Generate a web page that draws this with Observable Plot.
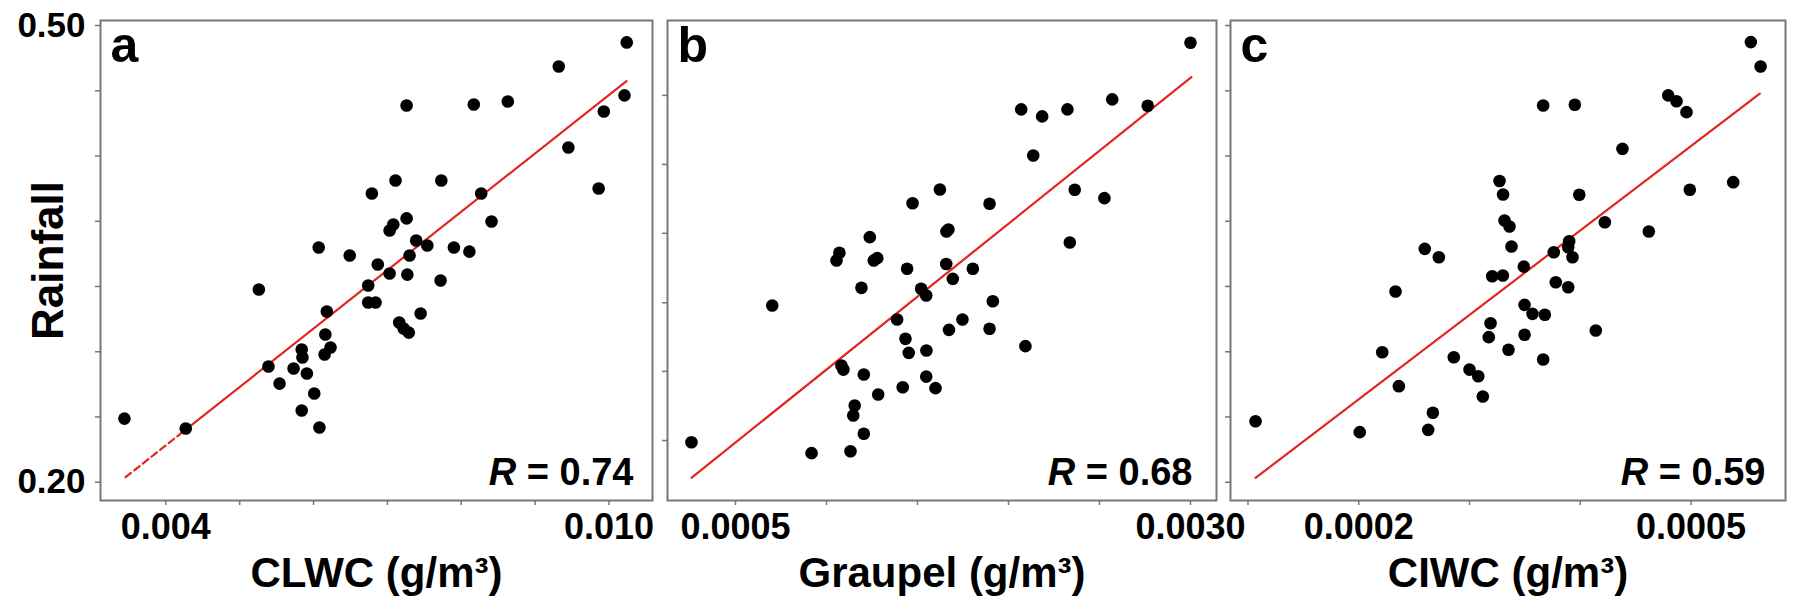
<!DOCTYPE html>
<html><head><meta charset="utf-8">
<script src="https://cdn.jsdelivr.net/npm/d3@7"></script>
<script src="https://cdn.jsdelivr.net/npm/@observablehq/plot@0.6"></script>
<style>
html,body{margin:0;padding:0;background:#fff;}
#chart{position:relative;width:1796px;height:607px;overflow:hidden;font-family:"Liberation Sans",Arial,sans-serif;}
#chart svg{position:absolute;top:0;}
</style></head><body><div id="chart"></div>
<script>
// ---- data ----
const clwc = [0.00344,0.00427,0.00526,0.00539,0.00554,0.00573,0.00584,0.00585,0.00591,0.00584,0.00601,0.00608,0.00607,0.00618,0.00616,0.00615,0.00623,0.00649,0.00674,0.00674,0.00684,0.00687,0.00679,0.00703,0.00703,0.00711,0.00716,0.00708,0.00722,0.00729,0.00726,0.00726,0.00730,0.00727,0.00739,0.00754,0.00745,0.00773,0.00772,0.00790,0.00811,0.00817,0.00827,0.00841,0.00863,0.00932,0.00945,0.00986,0.00993,0.01021,0.01024];
const rainA = [0.2418,0.2353,0.3266,0.2760,0.2648,0.2747,0.2872,0.2819,0.2714,0.2471,0.2583,0.2360,0.3542,0.3121,0.2970,0.2839,0.2885,0.3489,0.3292,0.3181,0.3181,0.3430,0.3897,0.3371,0.3654,0.3982,0.3049,0.3693,0.3010,0.2983,0.4475,0.3733,0.3489,0.3364,0.3588,0.3555,0.3108,0.3982,0.3325,0.3542,0.3515,0.4481,0.3897,0.3713,0.4501,0.4731,0.4199,0.3929,0.4435,0.4541,0.4889];
const graupel = [0.000258,0.000702,0.000918,0.001071,0.001055,0.001082,0.001093,0.001132,0.001155,0.001147,0.001205,0.001192,0.001205,0.001238,0.001260,0.001279,0.001284,0.001388,0.001419,0.001434,0.001443,0.001452,0.001473,0.001520,0.001548,0.001549,0.001548,0.001599,0.001623,0.001659,0.001670,0.001658,0.001694,0.001673,0.001747,0.001804,0.001896,0.001914,0.001896,0.002070,0.002093,0.002136,0.002185,0.002324,0.002364,0.002337,0.002527,0.002570,0.002765,0.003000];
const rainB = [0.2263,0.3161,0.2191,0.3507,0.3457,0.2767,0.2740,0.2204,0.2504,0.2438,0.2318,0.3277,0.2708,0.3610,0.3457,0.3472,0.2576,0.3069,0.2624,0.2942,0.3402,0.2850,0.3833,0.3271,0.3227,0.2865,0.2694,0.2618,0.3923,0.3647,0.3660,0.3434,0.3336,0.3001,0.3069,0.3402,0.3829,0.3189,0.3008,0.4449,0.2894,0.4146,0.4403,0.4449,0.3921,0.3575,0.3866,0.4515,0.4473,0.4887];
const ciwc = [0.0001068,0.0002009,0.0002212,0.0002332,0.0002362,0.0002596,0.0002723,0.0002669,0.0002627,0.0002858,0.0003000,0.0003079,0.0003120,0.0003190,0.0003174,0.0003205,0.0003301,0.0003271,0.0003303,0.0003316,0.0003361,0.0003379,0.0003352,0.0003490,0.0003497,0.0003497,0.0003569,0.0003680,0.0003665,0.0003665,0.0003761,0.0003779,0.0003891,0.0003900,0.0003891,0.0003930,0.0003951,0.0003991,0.0004140,0.0004222,0.0004381,0.0004619,0.0004794,0.0004869,0.0004959,0.0004989,0.0005381,0.0005540,0.0005628];
const rainC = [0.2401,0.2329,0.2854,0.3253,0.2631,0.3533,0.3478,0.2456,0.2344,0.2821,0.2740,0.2696,0.2563,0.3044,0.2953,0.3353,0.3358,0.3979,0.3890,0.3719,0.3680,0.3548,0.2870,0.3416,0.3165,0.2969,0.3106,0.3100,0.2806,0.4475,0.3511,0.3314,0.3281,0.3583,0.3544,0.3478,0.4480,0.3888,0.2997,0.3708,0.4190,0.3647,0.4541,0.4503,0.4431,0.3921,0.3971,0.4891,0.4731];

// fitted regression lines (end points)
const fitAx = [0.003455, 0.010237], fitAy = [0.2033, 0.4635];
const fitBx = [0.000258, 0.003005], fitBy = [0.2029, 0.4661];
const fitCx = [0.0001068, 0.0005621], fitCy = [0.2029, 0.4552];
const dashEndA = 0.00427;

// texts & ticks
const panelLetters = ["a", "b", "c"];
const rValues = ["0.74", "0.68", "0.59"];
const xTitles = ["CLWC (g/m³)", "Graupel (g/m³)", "CIWC (g/m³)"];
const yTitle = "Rainfall";
const yTicks = [0.2, 0.2429, 0.2857, 0.3286, 0.3714, 0.4143, 0.4571, 0.5];
const yTickLabels = ["0.20", "", "", "", "", "", "", "0.50"];
const yTicksB = [0.2274, 0.2728, 0.3179, 0.3635, 0.4088, 0.4541];
const xTicksA = [0.004, 0.005, 0.006, 0.007, 0.008, 0.009, 0.010];
const xTickLabelsA = ["0.004", "", "", "", "", "", "0.010"];
const xTicksB = [0.0005, 0.0010, 0.0015, 0.0020, 0.0025, 0.0030];
const xTickLabelsB = ["0.0005", "", "", "", "", "0.0030"];
const xTicksC = [0.0001, 0.0002, 0.0003, 0.0004, 0.0005];
const xTickLabelsC = ["", "0.0002", "", "", "0.0005"];

// ---- layout ----
const FONT = "Liberation Sans, Arial, Helvetica, sans-serif";
const GRAY = "#777777";
const RED = "#e3241f";
const H = 607, MT = 20, MB = 107;
const yDomain = [0.1880, 0.5033];

function fitLine(fx, fy, a, b) {
  const f = t => fy[0] + (fy[1] - fy[0]) * (t - fx[0]) / (fx[1] - fx[0]);
  return [{x: a, y: f(a)}, {x: b, y: f(b)}];
}

function panel(o) {
  const idx = d3.range(o.x.length);
  const xl = new Map(o.xTicks.map((t, i) => [t, o.xLabels[i]]));
  const yl = new Map(o.yTicks.map((t, i) => [t, o.yLabels ? o.yLabels[i] : ""]));
  const solidStart = o.dashEnd ?? o.fitX[0];
  const marks = [
    Plot.axisX(o.xTicks, {tickSize: 5, tickPadding: 8, tickFormat: d => xl.get(d), fontSize: 36, fontWeight: "bold", fontFamily: FONT, stroke: GRAY, strokeWidth: 1.5, fill: "black", label: null}),
    Plot.axisY(o.yTicks, {tickSize: 5, tickPadding: 10, tickFormat: d => yl.get(d), fontSize: 35, fontWeight: "bold", fontFamily: FONT, stroke: GRAY, strokeWidth: 1.5, fill: "black", label: null}),
    Plot.frame({stroke: GRAY, strokeWidth: 2}),
  ];
  if (o.dashEnd != null) {
    marks.push(Plot.line(fitLine(o.fitX, o.fitY, o.fitX[0], o.dashEnd), {x: "x", y: "y", stroke: RED, strokeWidth: 2.2, strokeDasharray: "7,4"}));
  }
  marks.push(
    Plot.line(fitLine(o.fitX, o.fitY, solidStart, o.fitX[1]), {x: "x", y: "y", stroke: RED, strokeWidth: 2.2}),
    Plot.dot(idx, {x: i => o.x[i], y: i => o.y[i], r: 6.3, fill: "black", stroke: "none"}),
    Plot.text([o.letter], {text: d => d, frameAnchor: "top-left", lineAnchor: "top", dx: 10, dy: 6, fontSize: 50, fontWeight: "bold", fontFamily: FONT, fill: "black"}),
    Plot.text(["R = " + o.r], {text: d => d, frameAnchor: "bottom-right", textAnchor: "end", lineAnchor: "top", dx: -o.rInset, dy: -42, fontSize: 38, fontWeight: "bold", fontFamily: FONT, fill: "black"}),
    Plot.text([o.title], {text: d => d, frameAnchor: "bottom", textAnchor: "middle", lineAnchor: "top", dy: 57, fontSize: 42, fontWeight: "bold", fontFamily: FONT, fill: "black"})
  );
  if (o.yTitle) {
    marks.push(Plot.text([o.yTitle], {text: d => d, frameAnchor: "left", textAnchor: "middle", lineAnchor: "middle", rotate: -90, dx: -52, fontSize: 44, fontWeight: "bold", fontFamily: FONT, fill: "black"}));
  }
  const svg = Plot.plot({
    width: o.width, height: H,
    marginTop: MT, marginBottom: MB, marginLeft: o.ml, marginRight: o.mr,
    style: {fontFamily: FONT, background: "transparent", overflow: "visible"},
    x: {domain: o.xDomain, axis: null},
    y: {domain: yDomain, axis: null},
    marks
  });
  // italic R in the correlation annotation
  d3.select(svg).selectAll("text").filter(function() { return this.textContent === "R = " + o.r; })
    .each(function() {
      const t = d3.select(this);
      t.text("");
      t.append("tspan").attr("font-style", "italic").text("R");
      t.append("tspan").text(" = " + o.r);
    });
  svg.style.left = o.left + "px";
  svg.style.position = "absolute";
  svg.style.top = "0px";
  document.getElementById("chart").appendChild(svg);
}

panel({x: clwc, y: rainA, xDomain: [0.003116, 0.010589], xTicks: xTicksA, xLabels: xTickLabelsA,
  yTicks, yLabels: yTickLabels, fitX: fitAx, fitY: fitAy, dashEnd: dashEndA,
  letter: panelLetters[0], r: rValues[0], title: xTitles[0], yTitle,
  left: 0, width: 660, ml: 100, mr: 8, rInset: 19});
panel({x: graupel, y: rainB, xDomain: [0.0001264, 0.003143], xTicks: xTicksB, xLabels: xTickLabelsB,
  yTicks: yTicksB, yLabels: null, fitX: fitBx, fitY: fitBy,
  letter: panelLetters[1], r: rValues[1], title: xTitles[1],
  left: 660, width: 560, ml: 7, mr: 4, rInset: 24});
panel({x: ciwc, y: rainC, xDomain: [0.0000842, 0.0005853], xTicks: xTicksC, xLabels: xTickLabelsC,
  yTicks, yLabels: null, fitX: fitCx, fitY: fitCy,
  letter: panelLetters[2], r: rValues[2], title: xTitles[2],
  left: 1220, width: 576, ml: 10, mr: 11, rInset: 20});
</script></body></html>
